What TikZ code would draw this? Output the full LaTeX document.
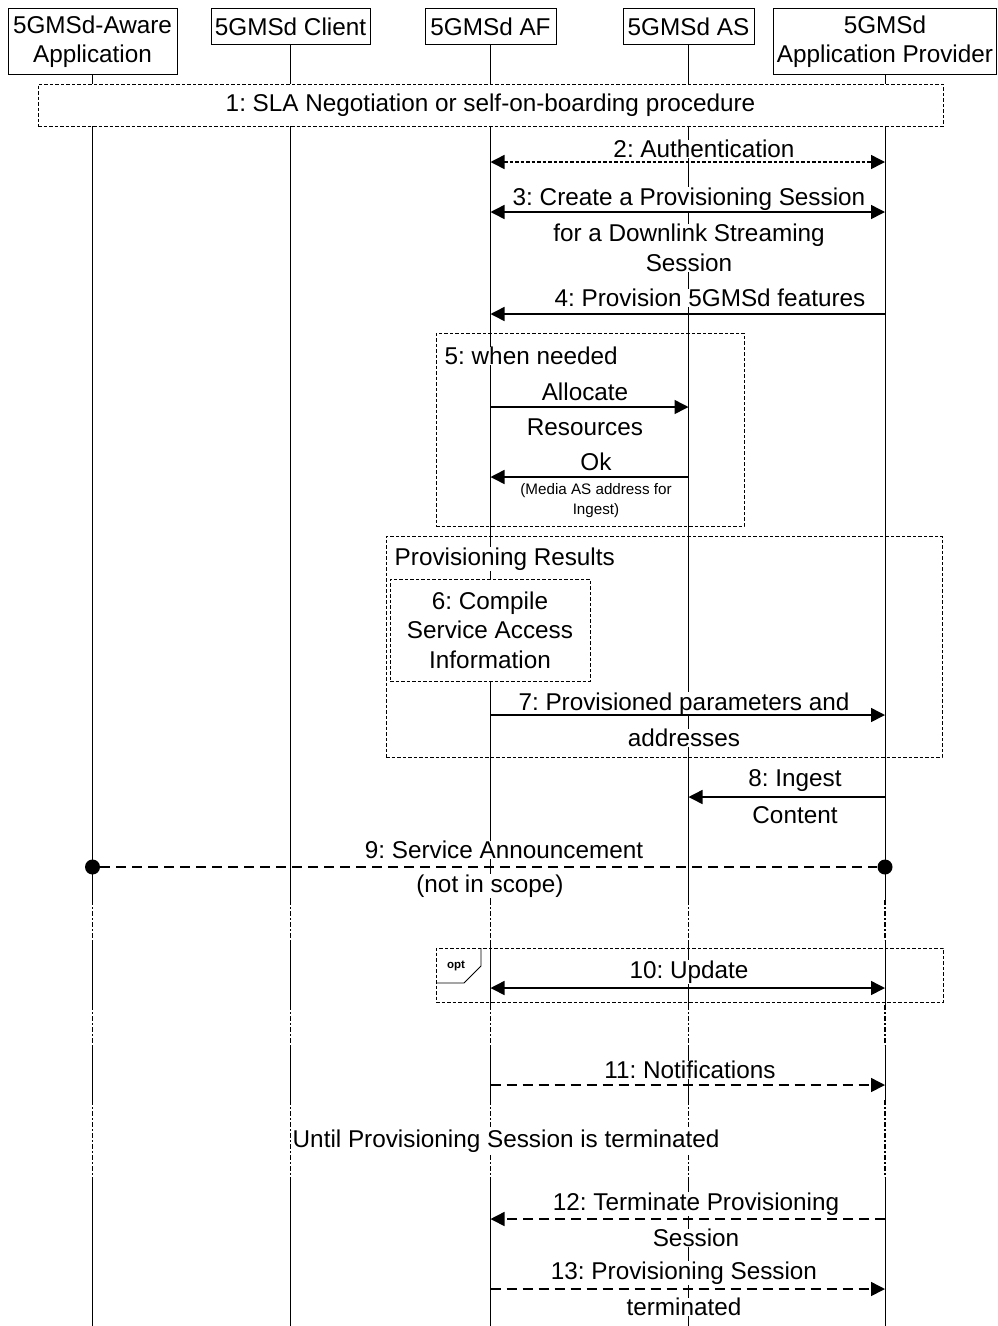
\documentclass[tikz,border=0pt]{standalone}
\usepackage{fontspec}
\setmainfont{Liberation Sans}
\usetikzlibrary{arrows.meta}
\frenchspacing

\begin{document}
\begin{tikzpicture}[x=1pt,y=-1pt,
  font=\fontsize{24.3}{29.5}\selectfont,
  hdr/.style={draw, line width=1pt, align=center, inner sep=0pt, anchor=north},
  life/.style={line width=1pt},
  lifebrk/.style={line width=1.1pt, dash pattern=on 5pt off 2pt on 2pt off 2pt},
  frame/.style={draw, line width=1pt, dash pattern=on 3.5pt off 2pt, inner sep=0pt},
  lbl/.style={fill=white, inner sep=0.5pt, align=center},
  small/.style={font=\fontsize{15.2}{20}\selectfont},
  msg/.style={line width=1.5pt, -{Triangle[length=14pt,width=14pt]}},
  both/.style={line width=1.5pt, {Triangle[length=14pt,width=14pt]}-{Triangle[length=14pt,width=14pt]}},
  fine/.style={dash pattern=on 3.5pt off 2pt},
  longdash/.style={dash pattern=on 10pt off 6pt},
  dotend/.style={circle, fill, inner sep=0pt, minimum size=15pt},
]
  \useasboundingbox (0,0) rectangle (997,1326);

  % participants
  \node[hdr, minimum width=169, minimum height=66] (app) at (92.5,8) {5GMSd-Aware\\Application};
  \node[hdr, minimum width=159, minimum height=36] (cl) at (290.5,8) {5GMSd Client};
  \node[hdr, minimum width=131, minimum height=36] (af) at (490.5,8) {5GMSd AF};
  \node[hdr, minimum width=131, minimum height=36] (as) at (688.5,8) {5GMSd AS};
  \node[hdr, minimum width=223, minimum height=66] (ap) at (885,8) {5GMSd\\Application Provider};

  % lifelines with breaks
  \coordinate (bkAtop) at (0,900);
  \coordinate (bkAbot) at (0,940);
  \coordinate (bkBtop) at (0,1005);
  \coordinate (bkBbot) at (0,1045);
  \coordinate (bkCtop) at (0,1100);
  \coordinate (bkCbot) at (0,1177);
  \coordinate (bottom) at (0,1326);
  \foreach \p in {app,cl,af,as,ap} {
    \draw[life] (\p.south) -- (\p |- bkAtop);
    \draw[lifebrk] (\p |- bkAtop) -- (\p |- bkAbot);
    \draw[life] (\p |- bkAbot) -- (\p |- bkBtop);
    \draw[lifebrk] (\p |- bkBtop) -- (\p |- bkBbot);
    \draw[life] (\p |- bkBbot) -- (\p |- bkCtop);
    \draw[lifebrk] (\p |- bkCtop) -- (\p |- bkCbot);
    \draw[life] (\p |- bkCbot) -- (\p |- bottom);
  }

  % message rows
  \coordinate (m2) at (0,162);
  \coordinate (m3) at (0,212);
  \coordinate (m4) at (0,314);
  \coordinate (m5a) at (0,407);
  \coordinate (m5b) at (0,477);
  \coordinate (m7) at (0,715);
  \coordinate (m8) at (0,797);
  \coordinate (m9) at (0,867);
  \coordinate (m10) at (0,988);
  \coordinate (m11) at (0,1085);
  \coordinate (m12) at (0,1219);
  \coordinate (m13) at (0,1289);

  % frames
  \node[frame, fill=white, minimum width=905, minimum height=42] (sla) at (490.5,105)
    {1: SLA Negotiation or self-on-boarding procedure};
  \node[frame, minimum width=308, minimum height=193] (frame5) at (590,429.5) {};
  \node[frame, minimum width=556, minimum height=221] (frameres) at (664,646.5) {};
  \node[frame, fill=white, align=center, minimum width=200, minimum height=102] (compile) at (490,630)
    {6: Compile\\Service Access\\Information};
  \node[frame, minimum width=507, minimum height=54] (frameopt) at (689.5,975) {};
  \draw[line width=0.8pt] (436,983) -- (464,983) -- (481,966) -- (481,948);
  \node[inner sep=0pt, font=\fontsize{11.5}{13}\selectfont\bfseries] (lopt) at (456,966) {opt};

  % labels
  \node[lbl] (l2) at (704,149) {2: Authentication};
  \node[lbl] (l3a) at (689,199) {3: Create a Provisioning Session};
  \node[lbl] (l3b) at (689,248) {for a Downlink Streaming\\Session};
  \node[lbl] (l4) at (710,298) {4: Provision 5GMSd features};
  \node[lbl, anchor=west] (l5) at (444,356) {5: when needed};
  \node[lbl] (l5a) at (585,392) {Allocate};
  \node[lbl] (l5b) at (585,427) {Resources};
  \node[lbl] (l5c) at (596,462) {Ok};
  \node[lbl, small] (l5d) at (596,501) {(Media AS address for\\Ingest)};
  \node[lbl, anchor=west] (lres) at (394,559) {Provisioning Results};
  \node[lbl] (l7a) at (684,704) {7: Provisioned parameters and};
  \node[lbl] (l7b) at (684,738) {addresses};
  \node[lbl] (l8a) at (795,781) {8: Ingest};
  \node[lbl] (l8b) at (795,815) {Content};
  \node[lbl] (l9a) at (504,850) {9: Service Announcement};
  \node[lbl] (l9b) at (490,886) {(not in scope)};
  \node[lbl] (l10) at (689,972) {10: Update};
  \node[lbl] (l11) at (690,1070) {11: Notifications};
  \node[lbl, anchor=west] (luntil) at (292,1141) {Until Provisioning Session is terminated};
  \node[lbl] (l12a) at (696,1204) {12: Terminate Provisioning};
  \node[lbl] (l12b) at (696,1238) {Session};
  \node[lbl] (l13a) at (684,1273) {13: Provisioning Session};
  \node[lbl] (l13b) at (684,1307) {terminated};

  % messages
  \draw[both, fine] (af |- m2) -- (ap |- m2);
  \draw[both] (af |- m3) -- (ap |- m3);
  \draw[msg] (ap |- m4) -- (af |- m4);
  \draw[msg] (af |- m5a) -- (as |- m5a);
  \draw[msg] (as |- m5b) -- (af |- m5b);
  \draw[msg] (af |- m7) -- (ap |- m7);
  \draw[msg] (ap |- m8) -- (as |- m8);
  \node[dotend] (d9a) at (app |- m9) {};
  \node[dotend] (d9b) at (ap |- m9) {};
  \draw[line width=1.5pt, longdash] (d9a) -- (d9b);
  \draw[both] (af |- m10) -- (ap |- m10);
  \draw[msg, longdash] (af |- m11) -- (ap |- m11);
  \draw[msg, longdash] (ap |- m12) -- (af |- m12);
  \draw[msg, longdash] (af |- m13) -- (ap |- m13);
\end{tikzpicture}
\end{document}
